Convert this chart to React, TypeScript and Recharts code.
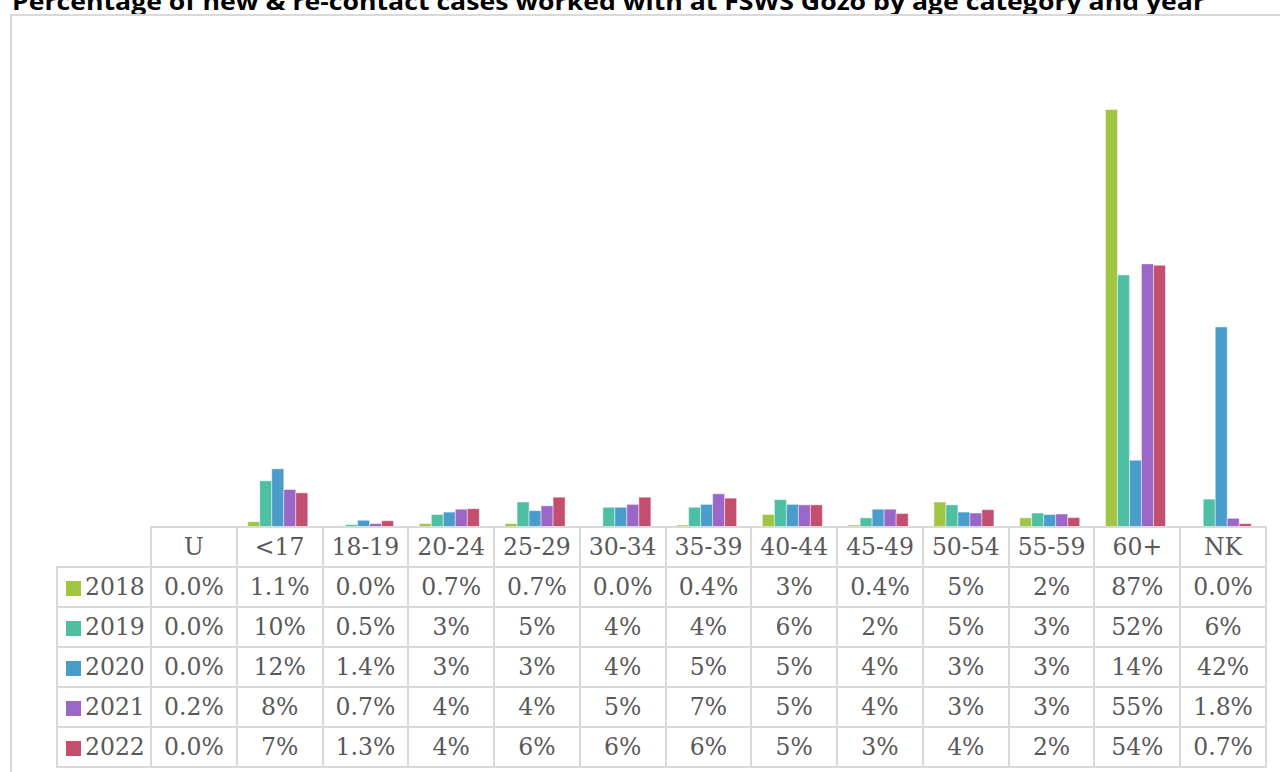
import React from 'react';
import { BarChart, Bar, XAxis, YAxis } from 'recharts';

const categories = ['U', '<17', '18-19', '20-24', '25-29', '30-34', '35-39', '40-44', '45-49', '50-54', '55-59', '60+', 'NK'];
const years = ['2018', '2019', '2020', '2021', '2022'];
const colors = ['#9fc542', '#4fbfa3', '#4a9dcb', '#9a66c8', '#c44e6d'];

// percentages per age category, one array per year
const y2018 = [0.0, 1.1, 0.0, 0.7, 0.7, 0.0, 0.4, 2.6, 0.4, 5.2, 1.9, 86.8, 0.0];
const y2019 = [0.0, 9.6, 0.5, 2.6, 5.2, 4.1, 4.1, 5.7, 1.9, 4.6, 2.9, 52.4, 5.8];
const y2020 = [0.0, 12.1, 1.4, 3.1, 3.4, 4.1, 4.7, 4.7, 3.7, 3.1, 2.6, 13.9, 41.6];
const y2021 = [0.2, 7.8, 0.7, 3.7, 4.4, 4.7, 6.9, 4.6, 3.7, 2.9, 2.7, 54.7, 1.8];
const y2022 = [0.0, 7.1, 1.3, 3.8, 6.2, 6.2, 6.0, 4.6, 2.8, 3.6, 1.95, 54.4, 0.7];

const series = [y2018, y2019, y2020, y2021, y2022];

const data = categories.map((c, i) => {
  const row: any = { name: c };
  years.forEach((y, k) => { row[y] = series[k][i]; });
  return row;
});

const fmt = (v: number) => (v < 1.9 ? v.toFixed(1) : String(Math.round(v))) + '%';

const PLOT_LEFT = 150;
const PLOT_WIDTH = 1115;
const COL_W = PLOT_WIDTH / categories.length;
const LEG_W = 94;
const ROW_H = 38;
const border = '2px solid #d9d9d9';
const font = '"DejaVu Serif", serif';

const cell: React.CSSProperties = {
  border,
  height: ROW_H,
  padding: 0,
  textAlign: 'center',
  verticalAlign: 'middle',
  color: '#595959',
  fontSize: 23.5,
  fontFamily: font,
  lineHeight: '24px',
  whiteSpace: 'nowrap',
};

const DataTable = () => (
  <table
    style={{
      position: 'absolute',
      left: PLOT_LEFT - LEG_W,
      top: 526,
      borderCollapse: 'collapse',
      tableLayout: 'fixed',
      width: LEG_W + PLOT_WIDTH,
    }}
  >
    <colgroup>
      <col style={{ width: LEG_W }} />
      {categories.map((c) => <col key={c} style={{ width: COL_W }} />)}
    </colgroup>
    <tbody>
      <tr>
        <td style={{ ...cell, border: 'none' }} />
        {categories.map((c) => <td key={c} style={cell}>{c}</td>)}
      </tr>
      {years.map((y, k) => (
        <tr key={y}>
          <td style={{ ...cell, textAlign: 'left', paddingLeft: 8 }}>
            <span style={{ display: 'inline-block', width: 15, height: 15, background: colors[k], marginRight: 4, verticalAlign: -1 }} />
            {y}
          </td>
          {series[k].map((v, i) => <td key={i} style={cell}>{fmt(v)}</td>)}
        </tr>
      ))}
    </tbody>
  </table>
);

export default function App() {
  return (
    <div style={{ position: 'absolute', left: 0, top: 0, width: 1280, height: 772, overflow: 'hidden', background: '#fff' }}>
      <svg width={1280} height={20} style={{ position: 'absolute', left: 0, top: 0 }}>
        <text x={12} y={10} fontFamily='"Open Sans", sans-serif' fontWeight={700} fontSize={23}
          textLength={1193} lengthAdjust="spacingAndGlyphs" fill="#000">
          Percentage of new &amp; re-contact cases worked with at FSWS Gozo by age category and year
        </text>
      </svg>
      <div style={{ position: 'absolute', left: 10, top: 14, width: 1300, height: 800, border }} />
      <div style={{ position: 'absolute', left: PLOT_LEFT, top: 46 }}>
        <BarChart width={PLOT_WIDTH} height={481} data={data} margin={{ top: 0, right: 0, bottom: 0, left: 0 }}
          barCategoryGap="14%" barGap={0}>
          <XAxis dataKey="name" hide />
          <YAxis hide domain={[0, 100]} />
          {years.map((y, k) => (
            <Bar key={y} dataKey={y} fill={colors[k]} stroke="rgba(255,255,255,0.45)" strokeWidth={1}
              isAnimationActive={false} />
          ))}
        </BarChart>
      </div>
      <DataTable />
    </div>
  );
}
